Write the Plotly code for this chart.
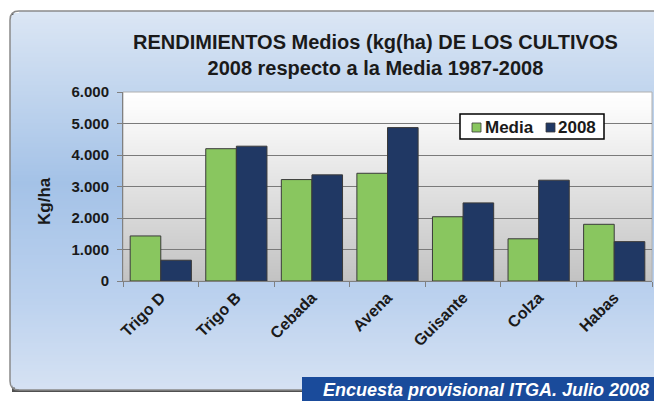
import plotly.graph_objects as go

# Data (kg/ha)
cultivos = ['Trigo D', 'Trigo B', 'Cebada', 'Avena', 'Guisante', 'Colza', 'Habas']
media = [1430, 4200, 3220, 3420, 2040, 1340, 1800]
rend_2008 = [660, 4280, 3370, 4870, 2480, 3200, 1250]
y_ticks = [0, 1000, 2000, 3000, 4000, 5000, 6000]
series_names = ['Media', '2008']
series_colors = ['#89c65f', '#203864']

# geometry in page pixels; the page body adds an 8px margin, so the figure is smaller
OFF = 8
PAGE_W, PAGE_H = 662, 401
W, H = PAGE_W - OFF, PAGE_H - OFF
L, R, T, B = 123, 652, 92, 281
pw, ph = R - L, B - T

FONT = 'Liberation Sans, Arial, sans-serif'


def px(x):
    return (x - L) / pw


def py(y):
    return (B - y) / ph


def mix(c1, c2, f):
    a = [int(c1[i:i + 2], 16) for i in (1, 3, 5)]
    b = [int(c2[i:i + 2], 16) for i in (1, 3, 5)]
    return 'rgb(%d,%d,%d)' % tuple(round(a[i] + (b[i] - a[i]) * f) for i in range(3))


def grad(stops, t):
    t = max(0, min(1, t))
    for (t0, c0), (t1, c1) in zip(stops, stops[1:]):
        if t <= t1:
            return mix(c0, c1, (t - t0) / (t1 - t0))
    return mix(stops[-1][1], stops[-1][1], 0)


shapes = []

# outer panel: shadow, gradient stripes, outline
fx0, fy0, fx1, fy1, rad = 10, 11, 720, 390, 9
shapes.append(dict(type='rect', xref='paper', yref='paper', layer='below',
                   x0=px(fx0 + 2), x1=px(fx1), y0=py(fy1 + 2), y1=py(fy0 + 2),
                   fillcolor='#505050', line_width=0))
frame_stops = [(0, '#dbe6f4'), (0.45, '#a4c2e7'), (0.75, '#bbd1ee'), (1, '#d6e2f3')]
step = 2
y = fy0
while y < fy1:
    dy = max(0, min(y - fy0, fy1 - (y + step)))
    inset = 0
    if dy < rad:
        inset = rad - (rad ** 2 - (rad - dy) ** 2) ** 0.5
    shapes.append(dict(type='rect', xref='paper', yref='paper', layer='below',
                       x0=px(fx0 + inset), x1=px(fx1), y0=py(min(y + step + 0.5, fy1)), y1=py(y),
                       fillcolor=grad(frame_stops, (y - fy0) / (fy1 - fy0)), line_width=0))
    y += step
path = ('M %f,%f L %f,%f L %f,%f Q %f,%f %f,%f L %f,%f Q %f,%f %f,%f Z' % (
    px(fx1), py(fy0), px(fx1), py(fy1), px(fx0 + rad), py(fy1),
    px(fx0), py(fy1), px(fx0), py(fy1 - rad),
    px(fx0), py(fy0 + rad), px(fx0), py(fy0), px(fx0 + rad), py(fy0)))
shapes.append(dict(type='path', xref='paper', yref='paper', layer='below', path=path,
                   line=dict(color='#8a8a8a', width=1.5)))

# plot area gradient
plot_stops = [(0, '#ffffff'), (0.2, '#f4f4f4'), (1, '#c2c2c2')]
y = T
while y < B:
    shapes.append(dict(type='rect', xref='paper', yref='paper', layer='below',
                       x0=0, x1=1, y0=py(min(y + 3.5, B)), y1=py(y),
                       fillcolor=grad(plot_stops, (y - T) / ph), line_width=0))
    y += 3
shapes.append(dict(type='rect', xref='paper', yref='paper', layer='below',
                   x0=0, x1=1, y0=0, y1=1, line=dict(color='#b0b0b0', width=1)))

# hand-made legend box (tight like the original)
shapes.append(dict(type='rect', xref='paper', yref='paper', layer='above',
                   x0=px(460), x1=px(604), y0=py(139), y1=py(114),
                   fillcolor='white', line=dict(color='black', width=1.5)))
leg_sq_x = [472, 546]
leg_txt_x = [483, 556]
for sx, col in zip(leg_sq_x, series_colors):
    shapes.append(dict(type='rect', xref='paper', yref='paper', layer='above',
                       x0=px(sx), x1=px(sx + 9), y0=py(132), y1=py(123),
                       fillcolor=col, line=dict(color='#3a3a3a', width=0.8)))

# source banner
shapes.append(dict(type='rect', xref='paper', yref='paper', layer='above',
                   x0=px(302), x1=px(700), y0=py(410), y1=py(377),
                   fillcolor='#1a4b9b', line_width=0))

fig = go.Figure()
for name, vals, col in zip(series_names, [media, rend_2008], series_colors):
    fig.add_bar(x=cultivos, y=vals, name=name, marker_color=col,
                marker_line=dict(color='#3a3a3a', width=1))

annotations = [
    dict(text='RENDIMIENTOS Medios (kg(ha) DE LOS CULTIVOS<br>2008 respecto a la Media 1987-2008',
         xref='paper', yref='paper', x=px(375), y=py(55), xanchor='center', yanchor='middle',
         showarrow=False, font=dict(size=20, family=FONT, color='#1a1a1a', weight='bold')),
    dict(text='Kg/ha', xref='paper', yref='paper', x=px(44), y=py(201),
         xanchor='center', yanchor='middle', textangle=-90, showarrow=False,
         font=dict(size=17, family=FONT, color='#1a1a1a', weight='bold')),
    dict(text='<i>Encuesta provisional ITGA. Julio 2008</i>', xref='paper', yref='paper',
         x=px(321), y=py(390), xanchor='left', yanchor='middle', showarrow=False,
         font=dict(size=18, family='Liberation Sans Narrow, ' + FONT, color='white', weight='bold')),
]
for tx, name in zip(leg_txt_x, series_names):
    annotations.append(dict(text=name, xref='paper', yref='paper', x=px(tx), y=py(127.5),
                            xanchor='left', yanchor='middle', showarrow=False,
                            font=dict(size=17, family=FONT, color='#1a1a1a', weight='bold')))

fig.update_layout(
    width=W, height=H,
    margin=dict(l=L - OFF, r=W - (R - OFF), t=T - OFF, b=H - (B - OFF), pad=0),
    paper_bgcolor='white', plot_bgcolor='rgba(0,0,0,0)',
    separators=',.',
    font=dict(family=FONT, color='#1a1a1a', size=13),
    barmode='group', bargap=0.19, bargroupgap=0,
    shapes=shapes, annotations=annotations,
    showlegend=False,
)

fig.update_xaxes(type='category', tickangle=-45, tickson='boundaries', ticks='outside',
                 ticklen=5, tickcolor='#808080', showline=True, linecolor='#808080',
                 linewidth=1, showgrid=False,
                 tickfont=dict(size=16, family=FONT, color='#1a1a1a', weight='bold'))
fig.update_yaxes(range=[0, 6000], tickvals=y_ticks, tickformat=',.0f',
                 ticks='outside', ticklen=5, tickcolor='#808080', showline=True,
                 linecolor='#808080', linewidth=1, showgrid=True, gridcolor='#7a7a7a',
                 gridwidth=1, zeroline=False, ticklabelstandoff=5,
                 tickfont=dict(size=15, family=FONT, color='#1a1a1a', weight='bold'))

fig.write_html('out.html')
